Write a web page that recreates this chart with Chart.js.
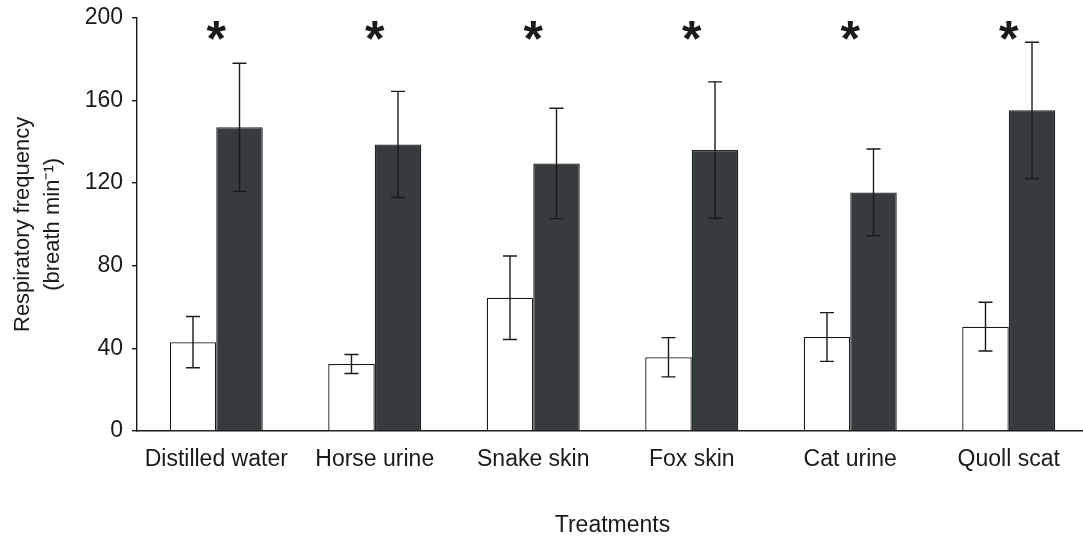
<!DOCTYPE html>
<html lang="en">
<head>
    <meta charset="UTF-8">
    <title>Respiratory frequency by treatment</title>
    <script src="https://cdn.jsdelivr.net/npm/chart.js"></script>
    <style>
        body {
            margin: 0;
            background: #fff;
            overflow: hidden;
        }
        .wrap {
            width: 1088px;
            height: 547px;
            margin-top: -5px;
            position: relative;
        }
    </style>
</head>
<body>
    <div class="wrap">
        <canvas id="chart"></canvas>
    </div>

    <script>
        const treatments = ['Distilled water', 'Horse urine', 'Snake skin', 'Fox skin', 'Cat urine', 'Quoll scat'];
        const beforeValues = [43, 32.4, 64.5, 35.7, 45.5, 50.5];
        const beforeErrors = [12.4, 4.6, 20.2, 9.5, 11.8, 11.8];
        const afterValues = [147, 138.7, 129.5, 136, 115.5, 155.2];
        const afterErrors = [31, 25.7, 26.7, 33, 21, 33];
        const significant = [true, true, true, true, true, true];
        const yTicks = [0, 40, 80, 120, 160, 200];
        const starLevel = 194;

        const fontFamily = '"Liberation Sans", Arial, sans-serif';
        const ink = '#1a1a1a';

        const errorBars = {
            id: 'errorBars',
            afterDatasetsDraw(chart) {
                const ctx = chart.ctx;
                const y = chart.scales.y;
                const errs = [beforeErrors, afterErrors];
                ctx.save();
                ctx.strokeStyle = ink;
                ctx.lineWidth = 1.4;
                chart.data.datasets.forEach((ds, di) => {
                    chart.getDatasetMeta(di).data.forEach((bar, i) => {
                        const v = ds.data[i];
                        const top = y.getPixelForValue(v + errs[di][i]);
                        const bot = y.getPixelForValue(v - errs[di][i]);
                        ctx.beginPath();
                        ctx.moveTo(bar.x, top);
                        ctx.lineTo(bar.x, bot);
                        ctx.moveTo(bar.x - 7, top);
                        ctx.lineTo(bar.x + 7, top);
                        ctx.moveTo(bar.x - 7, bot);
                        ctx.lineTo(bar.x + 7, bot);
                        ctx.stroke();
                    });
                });
                ctx.restore();
            }
        };

        const stars = {
            id: 'stars',
            afterDraw(chart) {
                const ctx = chart.ctx;
                const x = chart.scales.x;
                const y = chart.scales.y;
                ctx.save();
                ctx.fillStyle = ink;
                ctx.font = 'bold 50px ' + fontFamily;
                ctx.textAlign = 'center';
                ctx.textBaseline = 'alphabetic';
                const m = ctx.measureText('*');
                const shift = (m.actualBoundingBoxAscent - m.actualBoundingBoxDescent) / 2;
                const cy = y.getPixelForValue(starLevel);
                significant.forEach((s, i) => {
                    if (s) ctx.fillText('*', x.getPixelForValue(i), cy + shift);
                });
                ctx.restore();
            }
        };

        new Chart(document.getElementById('chart'), {
            type: 'bar',
            data: {
                labels: treatments,
                datasets: [{
                    label: 'Before',
                    data: beforeValues,
                    backgroundColor: '#ffffff',
                    borderColor: ink,
                    borderWidth: 1.3,
                    categoryPercentage: 0.587,
                    barPercentage: 1
                }, {
                    label: 'After',
                    data: afterValues,
                    backgroundColor: '#363b3e',
                    borderColor: '#222527',
                    borderWidth: 1.3,
                    categoryPercentage: 0.587,
                    barPercentage: 1
                }]
            },
            options: {
                responsive: true,
                maintainAspectRatio: false,
                animation: false,
                layout: { padding: { top: 12, right: 0, bottom: 0, left: 0 } },
                plugins: {
                    legend: { display: false },
                    tooltip: { enabled: false }
                },
                scales: {
                    x: {
                        grid: { display: false, drawTicks: false },
                        border: { display: true, color: ink, width: 1.4 },
                        ticks: {
                            color: ink,
                            padding: 15,
                            maxRotation: 0,
                            font: { family: fontFamily, size: 23 }
                        },
                        title: {
                            display: true,
                            text: 'Treatments',
                            color: ink,
                            padding: { top: 0, bottom: 3 },
                            font: { family: fontFamily, size: 23 }
                        },
                        afterFit(scale) { scale.height = 111; }
                    },
                    y: {
                        min: 0,
                        max: 200,
                        afterBuildTicks(scale) {
                            scale.ticks = yTicks.map(v => ({ value: v }));
                        },
                        grid: {
                            drawOnChartArea: false,
                            drawTicks: true,
                            tickLength: 5,
                            color: ink,
                            lineWidth: 1.4
                        },
                        border: { display: true, color: ink, width: 1.4 },
                        ticks: {
                            color: ink,
                            padding: 9,
                            font: { family: fontFamily, size: 23 }
                        },
                        title: {
                            display: true,
                            text: ['Respiratory frequency', '(breath min\u207B\u00B9)'],
                            color: ink,
                            padding: { top: 8, bottom: 0 },
                            font: { family: fontFamily, size: 22, lineHeight: 1.35 }
                        },
                        afterFit(scale) { scale.width = 137; }
                    }
                }
            },
            plugins: [errorBars, stars]
        });
    </script>
</body>
</html>
